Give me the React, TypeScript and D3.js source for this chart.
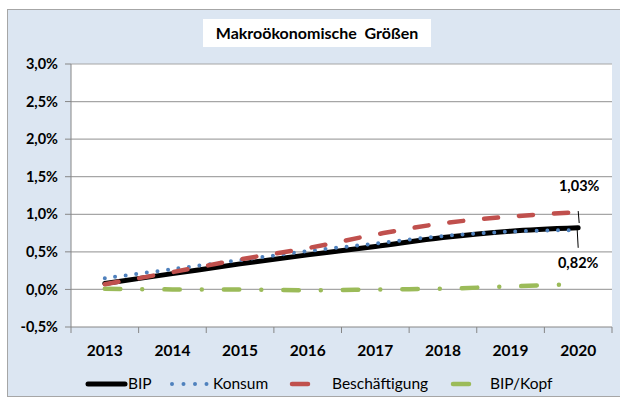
import React from "react";
import * as d3 from "d3";

const years = ["2013", "2014", "2015", "2016", "2017", "2018", "2019", "2020"];
const bip = [0.08, 0.21, 0.34, 0.46, 0.57, 0.69, 0.775, 0.82];
const konsum = [0.15, 0.27, 0.39, 0.51, 0.61, 0.71, 0.77, 0.79];
const beschaeftigung = [0.07, 0.23, 0.4, 0.55, 0.73, 0.88, 0.97, 1.03];
const bipKopf = [0.01, 0.0, 0.0, -0.01, 0.0, 0.01, 0.04, 0.07];
const yTicks = [-0.5, 0, 0.5, 1.0, 1.5, 2.0, 2.5, 3.0];
const title = "Makroökonomische  Größen";

const W = 620;
const H = 401;
const FONT = "Lato, 'Open Sans', sans-serif";

export default function App() {
  const left = 71, right = 612, top = 64, bottom = 327;
  const x = d3.scalePoint<string>().domain(years).range([left, right]).padding(0.5);
  const y = d3.scaleLinear().domain([-0.5, 3.0]).range([bottom, top]);
  const band = (right - left) / years.length;

  const line = d3
    .line<number>()
    .x((_, i) => x(years[i]) as number)
    .y((d) => y(d))
    .curve(d3.curveCatmullRom.alpha(0.5));

  const fmt = (v: number) => v.toFixed(1).replace(".", ",") + "%";
  const fmt2 = (v: number) => v.toFixed(2).replace(".", ",") + "%";

  const lastX = x(years[years.length - 1]) as number;
  const lastB = beschaeftigung[beschaeftigung.length - 1];
  const lastBip = bip[bip.length - 1];

  const legendY = 384;

  return (
    <svg
      width={W}
      height={H}
      style={{ position: "absolute", left: 0, top: 0, display: "block" }}
    >
      <rect x={0} y={0} width={W} height={H} fill="#ffffff" />
      <rect x={7.5} y={9.5} width={W - 7} height={387} fill="#DCE6F2" stroke="#A6A6A6" strokeWidth={1} />
      {/* title */}
      <rect x={203} y={19} width={228} height={28} fill="#ffffff" />
      <text x={317} y={39} textAnchor="middle" fontFamily={FONT} fontWeight="bold" fontSize={16} fill="#000" style={{ whiteSpace: "pre" }}>
        {title}
      </text>
      {/* plot area */}
      <rect x={left} y={top} width={right - left} height={bottom - top} fill="#ffffff" />
      {yTicks.map((t) => (
        <g key={t}>
          {t > -0.5 && (
            <line x1={left} x2={right} y1={y(t)} y2={y(t)} stroke="#A6A6A6" strokeWidth={1.2} />
          )}
          <line x1={left - 6} x2={left} y1={y(t)} y2={y(t)} stroke="#868686" strokeWidth={1} />
          <text x={58} y={y(t)} dy="0.35em" textAnchor="end" fontFamily={FONT} fontWeight="bold" fontSize={14.5} fill="#000">
            {fmt(t)}
          </text>
        </g>
      ))}
      <line x1={left} x2={left} y1={top} y2={bottom} stroke="#868686" strokeWidth={1} />
      <line x1={left} x2={right} y1={bottom} y2={bottom} stroke="#868686" strokeWidth={1} />
      {d3.range(years.length + 1).map((i) => (
        <line key={i} x1={left + i * band} x2={left + i * band} y1={bottom} y2={bottom + 6} stroke="#868686" strokeWidth={1} />
      ))}
      {years.map((yr) => (
        <text key={yr} x={x(yr)} y={351} dy="0.35em" textAnchor="middle" fontFamily={FONT} fontWeight="bold" fontSize={15.5} fill="#000">
          {yr}
        </text>
      ))}
      {/* series */}
      <path d={line(bipKopf) || ""} fill="none" stroke="#9BBB59" strokeWidth={4.5} strokeLinecap="round" strokeDasharray="15.5 22 0 22" />
      <path d={line(bip) || ""} fill="none" stroke="#000000" strokeWidth={5} strokeLinecap="round" />
      <path d={line(konsum) || ""} fill="none" stroke="#4F81BD" strokeWidth={4} strokeLinecap="round" strokeDasharray="0 10.6" />
      <path d={line(beschaeftigung) || ""} fill="none" stroke="#C0504D" strokeWidth={4.5} strokeLinecap="round" strokeDasharray="14 21" />
      {/* data labels */}
      <line x1={lastX + 1} x2={lastX} y1={y(lastB) + 11} y2={y(lastB) - 1} stroke="#000" strokeWidth={1} />
      <text x={lastX + 1} y={186} dy="0.35em" textAnchor="middle" fontFamily={FONT} fontWeight="bold" fontSize={14.5} fill="#000">
        {fmt2(lastB)}
      </text>
      <line x1={lastX - 1} x2={lastX} y1={y(lastBip) + 2} y2={y(lastBip) + 20} stroke="#000" strokeWidth={1} />
      <text x={lastX} y={263} dy="0.35em" textAnchor="middle" fontFamily={FONT} fontWeight="bold" fontSize={14.5} fill="#000">
        {fmt2(lastBip)}
      </text>
      {/* legend */}
      <line x1={88} x2={125} y1={legendY} y2={legendY} stroke="#000" strokeWidth={5} strokeLinecap="round" />
      <text x={128} y={legendY} dy="0.35em" fontFamily={FONT} fontSize={15.5} fill="#000">BIP</text>
      <line x1={172} x2={207} y1={legendY} y2={legendY} stroke="#4F81BD" strokeWidth={4} strokeLinecap="round" strokeDasharray="0 11.5" />
      <text x={213} y={legendY} dy="0.35em" fontFamily={FONT} fontSize={15.5} fill="#000">Konsum</text>
      <line x1={292} x2={308} y1={legendY} y2={legendY} stroke="#C0504D" strokeWidth={4.5} strokeLinecap="round" />
      <text x={332} y={legendY} dy="0.35em" fontFamily={FONT} fontSize={15.5} fill="#000">Beschäftigung</text>
      <line x1={453} x2={469} y1={legendY} y2={legendY} stroke="#9BBB59" strokeWidth={4.5} strokeLinecap="round" />
      <text x={490} y={legendY} dy="0.35em" fontFamily={FONT} fontSize={15.5} fill="#000">BIP/Kopf</text>
    </svg>
  );
}
